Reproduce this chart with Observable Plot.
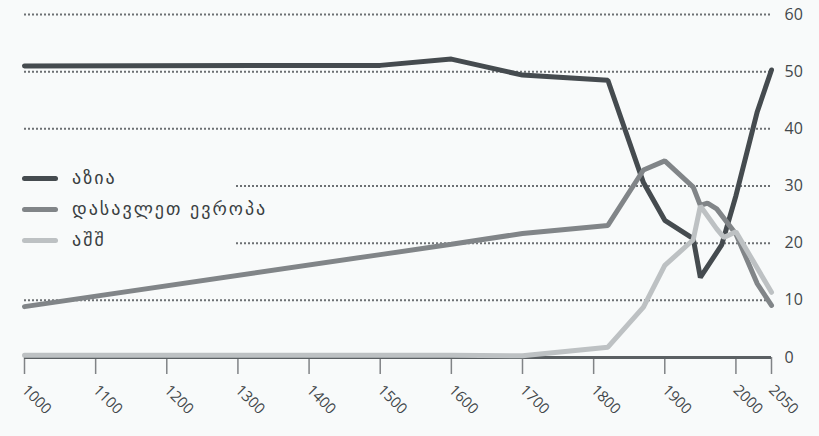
<!DOCTYPE html>
<html>
<head>
<meta charset="utf-8">
<script src="https://cdn.jsdelivr.net/npm/d3@7"></script>
<script src="https://cdn.jsdelivr.net/npm/@observablehq/plot@0.6"></script>
<style>
  html, body { margin: 0; padding: 0; background: #f8fafa; }
  #wrap { position: relative; width: 819px; height: 436px; overflow: hidden; }
  #legend { position: absolute; left: 0; top: 163px; width: 236px; height: 92px; background: #f8fafa;
            font-family: "DejaVu Sans", sans-serif; font-size: 18px; color: #3a3f42; }
  .row { position: absolute; left: 0; height: 20px; white-space: nowrap; }
  .sw { position: absolute; left: 22px; width: 36px; height: 5px; border-radius: 3px; top: 7px; }
  .lb { position: absolute; left: 72px; top: -1px; line-height: 20px; letter-spacing: 2px; }
</style>
</head>
<body>
<div id="wrap">
  <div id="chart"></div>
  <div id="legend"></div>
</div>
<script>
const seriesNames = ["აზია", "დასავლეთ ევროპა", "აშშ"];
const seriesColors = ["#454b4f", "#818588", "#bdc1c3"];

const asiaYears  = [1000, 1500, 1600, 1700, 1820, 1870, 1900, 1940, 1950, 1980, 2000, 2030, 2050];
const asiaShare  = [51.0, 51.1, 52.2, 49.4, 48.5, 30.6, 24.0, 20.8, 14.0, 19.7, 28.3, 43.0, 50.3];

const europeYears = [1000, 1500, 1600, 1700, 1820, 1870, 1900, 1940, 1950, 1960, 1973, 2000, 2030, 2050];
const europeShare = [8.9, 18.0, 19.8, 21.7, 23.1, 32.8, 34.4, 29.8, 26.6, 27.0, 26.0, 21.6, 12.9, 9.1];

const usYears = [1000, 1500, 1600, 1700, 1820, 1870, 1900, 1940, 1950, 1973, 1983, 2000, 2050];
const usShare = [0.4, 0.4, 0.4, 0.3, 1.8, 8.8, 16.1, 20.6, 26.5, 22.5, 21.0, 22.0, 11.4];

const xTicks = [1000, 1100, 1200, 1300, 1400, 1500, 1600, 1700, 1800, 1900, 2000, 2050];
const yTicks = [0, 10, 20, 30, 40, 50, 60];
const gridValues = [10, 20, 30, 40, 50, 60];

const toRows = (name, ys, vs) => ys.map((y, i) => ({series: name, year: y, value: vs[i]}));
const asia = toRows(seriesNames[0], asiaYears, asiaShare);
const europe = toRows(seriesNames[1], europeYears, europeShare);
const us = toRows(seriesNames[2], usYears, usShare);

const chart = Plot.plot({
  width: 819,
  height: 436,
  marginLeft: 24,
  marginRight: 48,
  marginTop: 14,
  marginBottom: 79,
  style: {background: "#f8fafa", fontFamily: "'Open Sans', sans-serif"},
  x: {domain: [1000, 2050]},
  y: {domain: [0, 60]},
  marks: [
    Plot.ruleY(gridValues, {stroke: "#6c7073", strokeWidth: 2, strokeDasharray: "2,2"}),
    Plot.axisX(xTicks, {label: null, tickSize: 17, tickPadding: 13, tickRotate: 45, fontSize: 15, fill: "#43484b",
                        stroke: "#808386", strokeWidth: 1.5, tickFormat: d => String(d)}),
    Plot.axisY(yTicks, {label: null, anchor: "right", tickSize: 0, tickPadding: 13, fontSize: 16, fill: "#43484b",
                        textAnchor: "start", tickFormat: d => String(d)}),
    Plot.ruleY([0], {stroke: "#5b6063", strokeWidth: 3}),
    Plot.line(asia, {x: "year", y: "value", stroke: seriesColors[0], strokeWidth: 5, strokeLinejoin: "miter"}),
    Plot.line(europe, {x: "year", y: "value", stroke: seriesColors[1], strokeWidth: 5, strokeLinejoin: "miter"}),
    Plot.line(us, {x: "year", y: "value", stroke: seriesColors[2], strokeWidth: 5, strokeLinejoin: "miter"})
  ]
});
document.getElementById("chart").appendChild(chart);

const legend = document.getElementById("legend");
const rowTops = [6, 37, 68];
seriesNames.forEach((n, i) => {
  const r = document.createElement("div");
  r.className = "row";
  r.style.top = rowTops[i] + "px";
  r.innerHTML = `<div class="sw" style="background:${seriesColors[i]}"></div><div class="lb">${n}</div>`;
  legend.appendChild(r);
});
</script>
</body>
</html>
